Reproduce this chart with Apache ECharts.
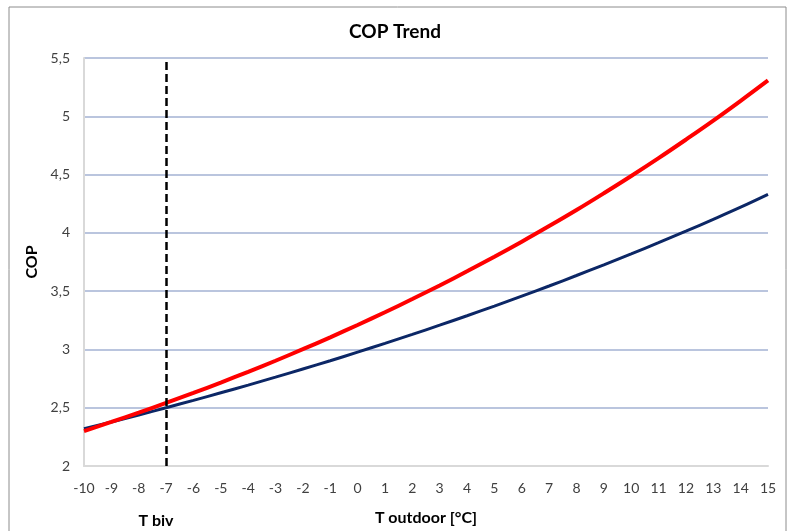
<!DOCTYPE html>
<html>
<head>
<meta charset="utf-8">
<script src="https://cdn.jsdelivr.net/npm/echarts@6/dist/echarts.min.js"></script>
<style>
  html, body { margin: 0; padding: 0; background: #fff; }
  #chart { width: 790px; height: 531px; }
</style>
</head>
<body>
<div id="chart"></div>
<script>
// outdoor temperature, degC
var temps = [-10, -9, -8, -7, -6, -5, -4, -3, -2, -1, 0, 1, 2, 3, 4, 5, 6, 7, 8, 9, 10, 11, 12, 13, 14, 15];
// red curve
var copRed = [2.300, 2.378, 2.458, 2.541, 2.627, 2.716, 2.808, 2.903, 3.002, 3.104, 3.210, 3.319, 3.432,
              3.549, 3.670, 3.795, 3.924, 4.058, 4.196, 4.340, 4.488, 4.641, 4.800, 4.963, 5.133, 5.308];
// blue curve
var copBlue = [2.320, 2.378, 2.438, 2.500, 2.563, 2.628, 2.694, 2.762, 2.832, 2.903, 2.977, 3.052, 3.129,
               3.208, 3.289, 3.372, 3.457, 3.544, 3.634, 3.726, 3.820, 3.916, 4.015, 4.116, 4.220, 4.330];
var tBiv = -7;

var font = 'Lato, "Open Sans", sans-serif';

function pairs(xs, ys) {
  return xs.map(function (x, i) { return [x, ys[i]]; });
}

var myChart = echarts.init(document.getElementById('chart'));
var option = {
  animation: false,
  backgroundColor: '#fff',
  textStyle: { fontFamily: font },
  title: {
    text: 'COP Trend',
    left: 'center',
    top: 17,
    textStyle: { fontFamily: font, fontSize: 19, fontWeight: 'bold', color: '#000' }
  },
  grid: { left: 84, right: 22, top: 58, bottom: 62 },
  xAxis: {
    type: 'value',
    min: -10,
    max: 15,
    interval: 1,
    name: 'T outdoor [°C]',
    nameLocation: 'middle',
    nameGap: 44,
    nameTextStyle: { fontFamily: font, fontSize: 16, fontWeight: 'bold', color: '#000' },
    axisLine: { lineStyle: { color: '#d9d9d9', width: 2 } },
    axisTick: { show: false },
    splitLine: { show: false },
    axisLabel: { margin: 15, fontSize: 14, color: '#404040' }
  },
  yAxis: {
    type: 'value',
    min: 2,
    max: 5.5,
    interval: 0.5,
    name: 'COP',
    nameLocation: 'middle',
    nameGap: 37,
    nameTextStyle: { fontFamily: font, fontSize: 16, fontWeight: 'bold', color: '#000' },
    axisLine: { show: true, onZero: false, lineStyle: { color: '#d9d9d9', width: 2 } },
    axisTick: { show: false },
    splitLine: { lineStyle: { color: '#a3b2d3', width: 1.5 } },
    axisLabel: {
      margin: 14,
      fontSize: 14,
      color: '#404040',
      formatter: function (v) { return String(v).replace('.', ','); }
    }
  },
  series: [
    {
      type: 'line',
      data: pairs(temps, copBlue),
      smooth: 0.4,
      showSymbol: false,
      lineStyle: { color: '#0c2766', width: 3 }
    },
    {
      type: 'line',
      data: pairs(temps, copRed),
      smooth: 0.4,
      showSymbol: false,
      lineStyle: { color: '#ff0000', width: 4 },
      markLine: {
        silent: true,
        symbol: 'none',
        label: { show: false },
        lineStyle: { color: '#000', type: [8, 4], width: 2.5 },
        data: [{ xAxis: tBiv }]
      }
    }
  ],
  graphic: [
    {
      type: 'rect',
      shape: { x: 9, y: 7, width: 777, height: 540 },
      style: { fill: 'none', stroke: '#8c8c8c', lineWidth: 1 },
      silent: true
    },
    {
      type: 'text',
      x: 156,
      y: 521,
      style: {
        text: 'T biv',
        fontFamily: font,
        fontSize: 16,
        fontWeight: 'bold',
        fill: '#000',
        align: 'center',
        verticalAlign: 'middle'
      }
    }
  ]
};
myChart.setOption(option);
</script>
</body>
</html>
